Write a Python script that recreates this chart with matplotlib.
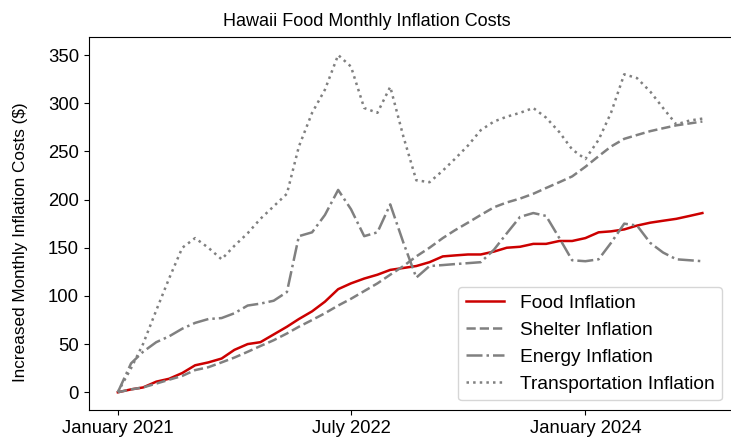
"""Hawaii food monthly inflation costs compared with other categories."""

import matplotlib

matplotlib.use("Agg")
import matplotlib.pyplot as plt
import matplotlib.dates as mdates
import pandas as pd


months = pd.date_range("2021-01-01", periods=46, freq="MS")

food = [0, 3, 5, 11, 14, 20, 28, 31, 35, 44, 50, 52, 60, 68, 76, 84, 94, 107,
        113, 118, 122, 127, 129, 131, 135, 141, 142, 143, 143, 146, 150, 151,
        154, 154, 157, 157, 160, 166, 167, 169, 173, 176, 178, 180, 183, 186]
shelter = [0, 3, 5, 9, 13, 17, 23, 26, 31, 36, 42, 48, 54, 61, 68, 75, 82, 90,
           97, 105, 113, 122, 131, 141, 150, 160, 168, 176, 184, 192, 197, 201,
           206, 212, 218, 224, 234, 245, 255, 263, 267, 271, 274, 277, 279, 281]
energy = [0, 30, 42, 52, 58, 66, 72, 76, 77, 82, 90, 92, 95, 104, 162, 166,
          184, 210, 190, 162, 166, 195, 155, 119, 131, 132, 133, 134, 135, 148,
          165, 182, 186, 183, 160, 137, 136, 138, 155, 175, 173, 155, 145, 138,
          137, 136]
transportation = [0, 25, 50, 85, 118, 150, 160, 150, 138, 152, 165, 180, 193,
                  206, 255, 290, 314, 350, 338, 295, 290, 317, 265, 220, 218,
                  230, 242, 256, 272, 281, 286, 290, 295, 285, 270, 252, 242,
                  262, 290, 330, 326, 312, 295, 278, 282, 284]

plt.rcParams.update({"font.family": ["Liberation Sans", "DejaVu Sans"]})

fig = plt.figure(figsize=(7.31, 4.48), dpi=100)
ax = fig.add_axes([88.6 / 731, 38 / 448, 643 / 731, 373.3 / 448])

ax.plot(months, food, color="#cc0000", linewidth=1.8, label="Food Inflation")
ax.plot(months, shelter, color="gray", linestyle="--", linewidth=1.8, label="Shelter Inflation")
ax.plot(months, energy, color="gray", linestyle="-.", linewidth=1.8, label="Energy Inflation")
ax.plot(months, transportation, color="gray", linestyle=":", linewidth=1.8,
        label="Transportation Inflation")

ax.set_ylim(-18.4, 369)
ax.set_yticks(range(0, 351, 50))
ax.set_xticks(pd.to_datetime(["2021-01-01", "2022-07-01", "2024-01-01"]))
ax.xaxis.set_major_formatter(mdates.DateFormatter("%B %Y"))
ax.tick_params(axis="both", labelsize=13.3)

ax.set_title("Hawaii Food Monthly Inflation Costs", fontsize=13, pad=8, x=(367 - 88.6) / 643)
ax.set_ylabel("Increased Monthly Inflation Costs ($)", fontsize=12.3)
ax.yaxis.set_label_coords(-0.094, 0.45)
ax.legend(loc="lower right", fontsize=13.8)

fig.savefig("out.png", dpi=100)
